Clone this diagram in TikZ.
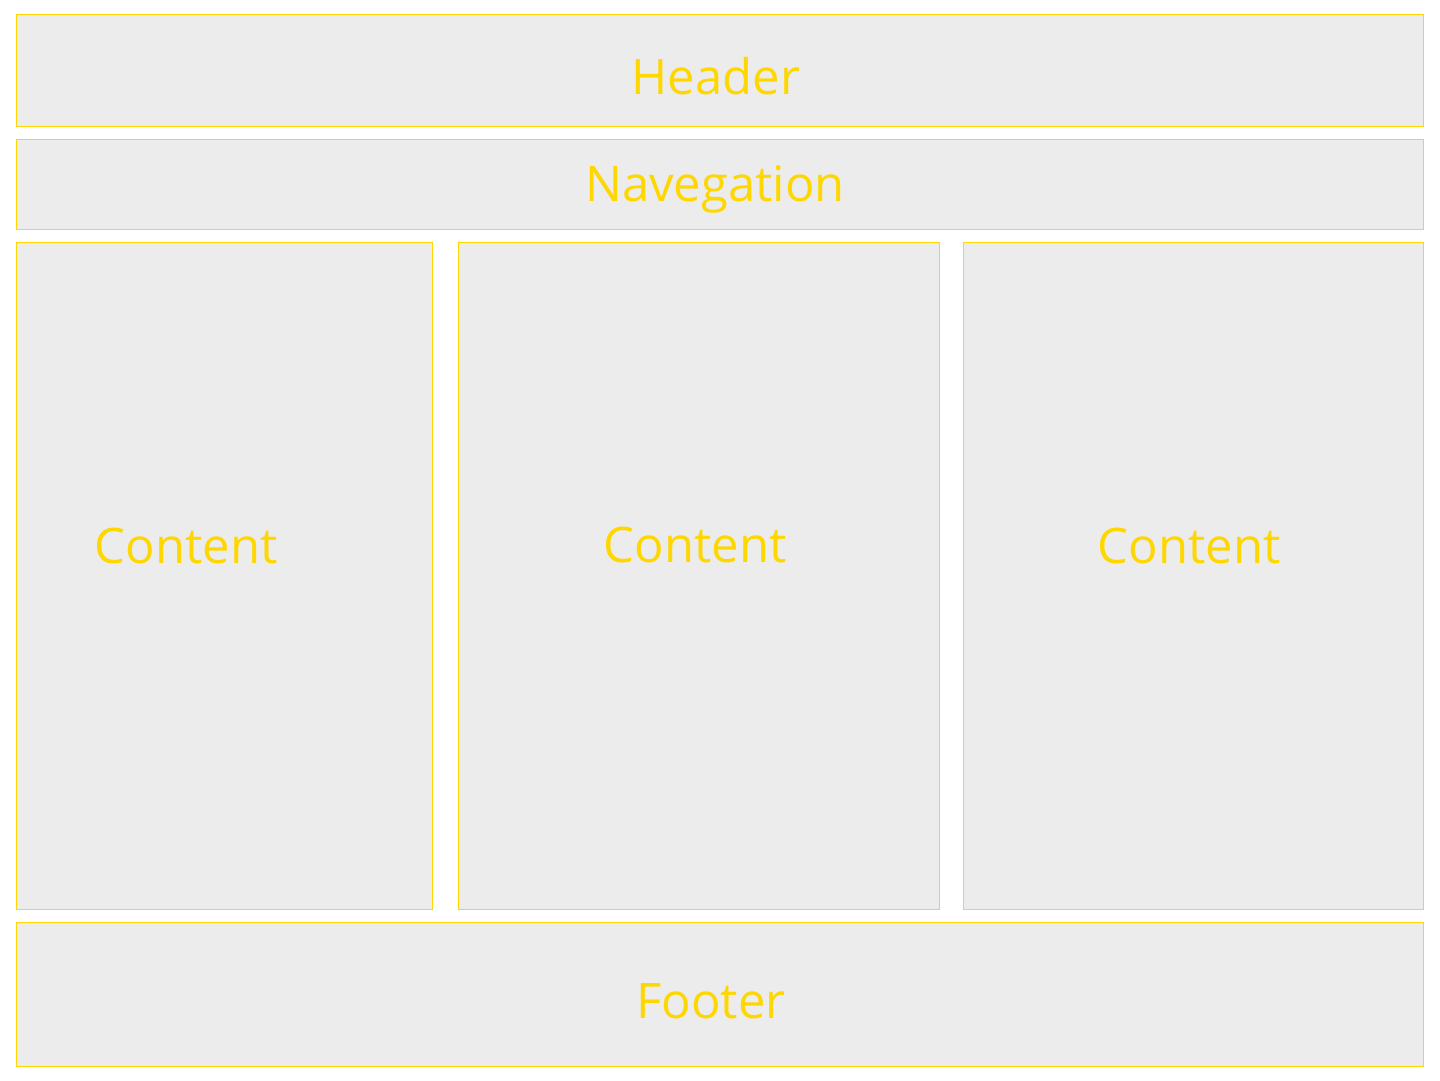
\documentclass[tikz,border=0pt]{standalone}
\usepackage{fontspec}
\setmainfont{Open Sans}
\usepackage{tikz}
\definecolor{boxgray}{HTML}{ECECEC}
\definecolor{gold}{HTML}{FFD700}
\tikzset{
  panel/.style={draw=gold,fill=boxgray,line width=1pt},
  caption/.style={text=gold,font=\fontsize{49}{58}\selectfont,inner sep=0pt}
}
\begin{document}
\begin{tikzpicture}[x=1pt,y=-1pt]
                      \useasboundingbox (0,0) rectangle (1440,1081);
                      \fill[white] (0,0) rectangle (1440,1081);
                      \draw[panel] (16.5,14.5) rectangle (1423.5,126.5);
                      \draw[panel] (16.5,139.5) rectangle (1423.5,229.5);
                      \draw[panel] (16.5,242.5) rectangle (432.5,909.5);
                      \draw[panel] (458.5,242.5) rectangle (939.5,909.5);
                      \draw[panel] (963.5,242.5) rectangle (1423.5,909.5);
                      \draw[panel] (16.5,922.5) rectangle (1423.5,1066.5);
                      \node[caption](header)at(716,76){Header};
                      \node[caption](nav)at(715,189){Navegation};
                      \node[caption](left)at(186,546){Content};
                      \node[caption](mid)at(695,545){Content};
                      \node[caption](right)at(1189,546){Content};
                      \node[caption](footer)at(711,1001){Footer};
                  \end{tikzpicture}
\end{document}
